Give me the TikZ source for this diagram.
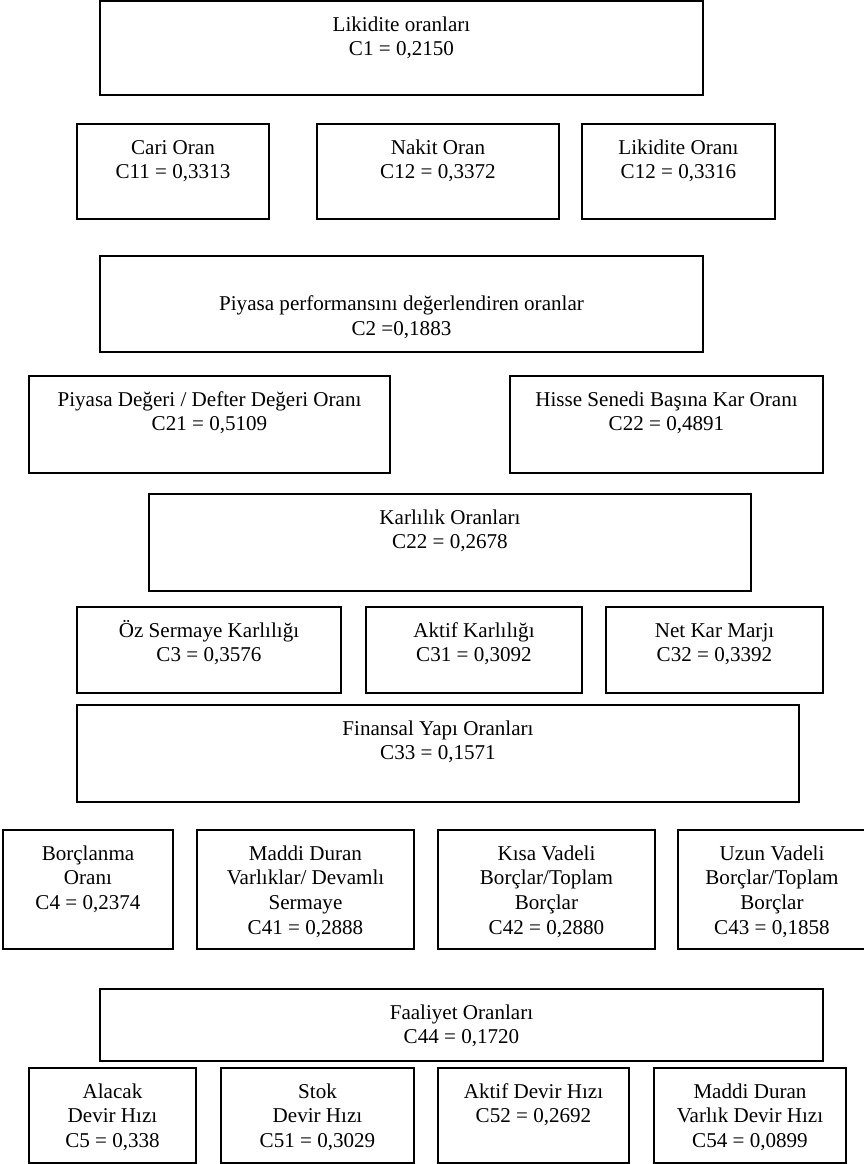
\documentclass[tikz,border=0pt]{standalone}
\usepackage{fontspec}
\setmainfont{Liberation Serif}
\usetikzlibrary{positioning}
\tikzset{
  kutu/.style = {draw=black, line width=1.1pt, rectangle, inner sep=0pt},
  yazi/.style = {anchor=north, align=center, inner sep=0pt,
                 font=\fontsize{12pt}{14pt}\selectfont},
}
% name, left, top, right, bottom, text (pixel units, y down)
\newcommand{\oranbox}[6]{%
  \node[kutu, minimum width={(#4-#2)*0.02cm}, minimum height={(#5-#3)*0.02cm}]
    (#1) at ({(#2+#4)/2},{(#3+#5)/2}) {};
  \node[yazi] (#1t) at ([yshift=-6.6pt]#1.north) {\rule{0pt}{11pt}#6};
}

\begin{document}
\begin{tikzpicture}[x=0.02cm, y=-0.02cm]
  \useasboundingbox (0,0) rectangle (864,1164);
  % likidite
  \oranbox{likidite}{100}{1}{703}{95}{Likidite oranları\\C1 = 0,2150}
  \oranbox{cari}{77}{124}{269}{219}{Cari Oran\\C11 = 0,3313}
  \oranbox{nakit}{317}{124}{559}{219}{Nakit Oran\\C12 = 0,3372}
  \oranbox{likoran}{582}{124}{775}{219}{Likidite Oranı\\C12 = 0,3316}
  % piyasa
  \oranbox{piyasa}{100}{256}{703}{352}{\mbox{}\\Piyasa performansını değerlendiren oranlar\\C2 =0,1883}
  \oranbox{pddd}{29}{376}{390}{473}{Piyasa Değeri / Defter Değeri Oranı\\C21 = 0,5109}
  \oranbox{hisse}{510}{376}{823}{473}{Hisse Senedi Başına Kar Oranı\\C22 = 0,4891}
  % karlilik
  \oranbox{karlilik}{149}{494}{751}{591}{Karlılık Oranları\\C22 = 0,2678}
  \oranbox{ozser}{77}{607}{341}{693}{Öz Sermaye Karlılığı\\C3 = 0,3576}
  \oranbox{aktifk}{366}{607}{582}{693}{Aktif Karlılığı\\C31 = 0,3092}
  \oranbox{netkar}{606}{607}{823}{693}{Net Kar Marjı\\C32 = 0,3392}
  % finansal yapi
  \oranbox{finansal}{77}{705}{799}{802}{Finansal Yapı Oranları\\C33 = 0,1571}
  \oranbox{borclanma}{3}{830}{173}{949}{Borçlanma\\Oranı\\C4 = 0,2374}
  \oranbox{maddi}{197}{830}{414}{949}{Maddi Duran\\Varlıklar/ Devamlı\\Sermaye\\C41 = 0,2888}
  \oranbox{kisa}{438}{830}{655}{949}{Kısa Vadeli\\Borçlar/Toplam\\Borçlar\\C42 = 0,2880}
  \oranbox{uzun}{678}{830}{866}{949}{Uzun Vadeli\\Borçlar/Toplam\\Borçlar\\C43 = 0,1858}
  % faaliyet
  \oranbox{faaliyet}{100}{989}{823}{1061}{Faaliyet Oranları\\C44 = 0,1720}
  \oranbox{alacak}{29}{1068}{196}{1163}{Alacak\\Devir Hızı\\C5 = 0,338}
  \oranbox{stok}{221}{1068}{414}{1163}{Stok\\Devir Hızı\\C51 = 0,3029}
  \oranbox{aktifdevir}{438}{1068}{629}{1163}{Aktif Devir Hızı\\C52 = 0,2692}
  \oranbox{maddidevir}{654}{1068}{846}{1163}{Maddi Duran\\Varlık Devir Hızı\\C54 = 0,0899}
\end{tikzpicture}
\end{document}
